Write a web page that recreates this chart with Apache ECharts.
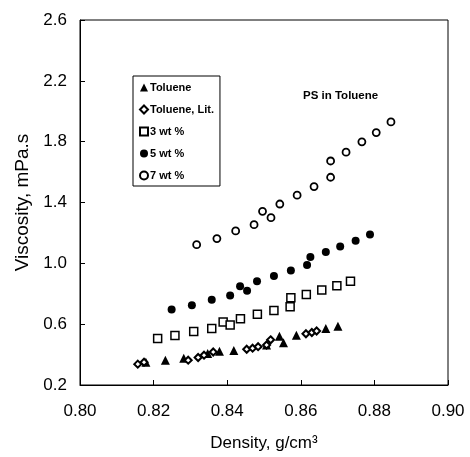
<!DOCTYPE html>
<html>
<head>
<meta charset="utf-8">
<script src="https://cdn.jsdelivr.net/npm/echarts@6/dist/echarts.min.js"></script>
<style>
html,body{margin:0;padding:0;background:#fff;}
#c{width:470px;height:457px;}
</style>
</head>
<body>
<div id="c"></div>
<script>
// Data (density g/cm3, viscosity mPa.s)
var tolueneX = [0.8179, 0.8232, 0.8282, 0.8347, 0.8379, 0.8418, 0.8507, 0.8542, 0.8553, 0.8588, 0.8668, 0.8701];
var tolueneY = [0.350, 0.363, 0.376, 0.407, 0.422, 0.427, 0.463, 0.520, 0.478, 0.527, 0.571, 0.586];
var tolLitX = [0.8157, 0.8174, 0.8294, 0.8321, 0.8337, 0.8362, 0.8453, 0.8469, 0.8484, 0.8507, 0.8518, 0.8614, 0.8630, 0.8643];
var tolLitY = [0.337, 0.350, 0.363, 0.381, 0.396, 0.417, 0.435, 0.442, 0.452, 0.463, 0.497, 0.537, 0.545, 0.555];
var wt3X = [0.8211, 0.8258, 0.8309, 0.8358, 0.8389, 0.8408, 0.8436, 0.8482, 0.8527, 0.8571, 0.8573, 0.8615, 0.8657, 0.8698, 0.8735];
var wt3Y = [0.505, 0.525, 0.551, 0.571, 0.615, 0.594, 0.636, 0.665, 0.690, 0.714, 0.774, 0.795, 0.824, 0.852, 0.882];
var wt5X = [0.8249, 0.8304, 0.8358, 0.8408, 0.8435, 0.8454, 0.8481, 0.8527, 0.8573, 0.8617, 0.8626, 0.8668, 0.8707, 0.8749, 0.8788];
var wt5Y = [0.697, 0.724, 0.760, 0.788, 0.850, 0.819, 0.882, 0.917, 0.953, 0.989, 1.041, 1.074, 1.110, 1.148, 1.189];
var wt7X = [0.8317, 0.8372, 0.8423, 0.8473, 0.8496, 0.8519, 0.8543, 0.8590, 0.8636, 0.8681, 0.8681, 0.8723, 0.8766, 0.8805, 0.8845];
var wt7Y = [1.123, 1.163, 1.213, 1.254, 1.342, 1.300, 1.390, 1.448, 1.505, 1.566, 1.673, 1.731, 1.799, 1.860, 1.930];

var xTicks = {min: 0.80, max: 0.90, step: 0.02};
var yTicks = {min: 0.2, max: 2.6, step: 0.4};

function pairs(xs, ys) { return xs.map(function (x, i) { return [x, ys[i]]; }); }

var FONT = '"Liberation Sans", Arial, sans-serif';
var chart = echarts.init(document.getElementById('c'), null, {renderer: 'canvas'});

var axisCommon = {
  axisLine: {show: true, onZero: false, lineStyle: {color: '#000', width: 1}},
  axisTick: {show: true, inside: true, length: 5, lineStyle: {color: '#000'}},
  splitLine: {show: false}
};

chart.setOption({
  animation: false,
  backgroundColor: '#fff',
  grid: {left: 80, top: 20, width: 368, height: 367, show: true, borderColor: '#000', borderWidth: 1, containLabel: false},
  xAxis: Object.assign({}, axisCommon, {
    type: 'value', min: xTicks.min, max: xTicks.max, interval: xTicks.step,
    axisLabel: {color: '#000', fontFamily: FONT, fontSize: 17, margin: 18,
      formatter: function (v) { return v.toFixed(2); }},
    name: 'Density, g/cm³', nameLocation: 'middle', nameGap: 50,
    nameTextStyle: {color: '#000', fontFamily: FONT, fontSize: 17}
  }),
  yAxis: Object.assign({}, axisCommon, {
    type: 'value', min: yTicks.min, max: yTicks.max, interval: yTicks.step,
    axisLabel: {color: '#000', fontFamily: FONT, fontSize: 17, margin: 13,
      formatter: function (v) { return v.toFixed(1); }},
    name: 'Viscosity, mPa.s', nameLocation: 'middle', nameGap: 44,
    nameTextStyle: {color: '#000', fontFamily: FONT, fontSize: 19}
  }),
  legend: {
    orient: 'vertical', left: 133, top: 76,
    padding: [6, 6, 5, 6], itemGap: 11,
    itemWidth: 8, itemHeight: 8,
    borderColor: '#000', borderWidth: 1,
    backgroundColor: '#fff',
    textStyle: {color: '#000', fontFamily: FONT, fontSize: 11, fontWeight: 'bold', padding: [0, 0, 0, -3]},
    data: ['Toluene', 'Toluene, Lit.', '3 wt %', '5 wt %', '7 wt %']
  },
  graphic: [{
    type: 'text', left: 303, top: 90,
    style: {text: 'PS in Toluene', fill: '#000', font: 'bold 11.5px ' + FONT}
  }],
  series: [
    {name: 'Toluene', type: 'scatter', symbol: 'triangle', symbolSize: 9,
     itemStyle: {color: '#000', opacity: 1}, data: pairs(tolueneX, tolueneY), z: 3},
    {name: 'Toluene, Lit.', type: 'scatter', symbol: 'diamond', symbolSize: 7,
     itemStyle: {color: '#fff', borderColor: '#000', borderWidth: 2, opacity: 1}, data: pairs(tolLitX, tolLitY), z: 4},
    {name: '3 wt %', type: 'scatter', symbol: 'rect', symbolSize: 8,
     itemStyle: {color: '#fff', borderColor: '#000', borderWidth: 1.5, opacity: 1}, data: pairs(wt3X, wt3Y)},
    {name: '5 wt %', type: 'scatter', symbol: 'circle', symbolSize: 8,
     itemStyle: {color: '#000', opacity: 1}, data: pairs(wt5X, wt5Y)},
    {name: '7 wt %', type: 'scatter', symbol: 'circle', symbolSize: 7,
     itemStyle: {color: '#fff', borderColor: '#000', borderWidth: 1.8, opacity: 1}, data: pairs(wt7X, wt7Y)}
  ]
});
</script>
</body>
</html>
